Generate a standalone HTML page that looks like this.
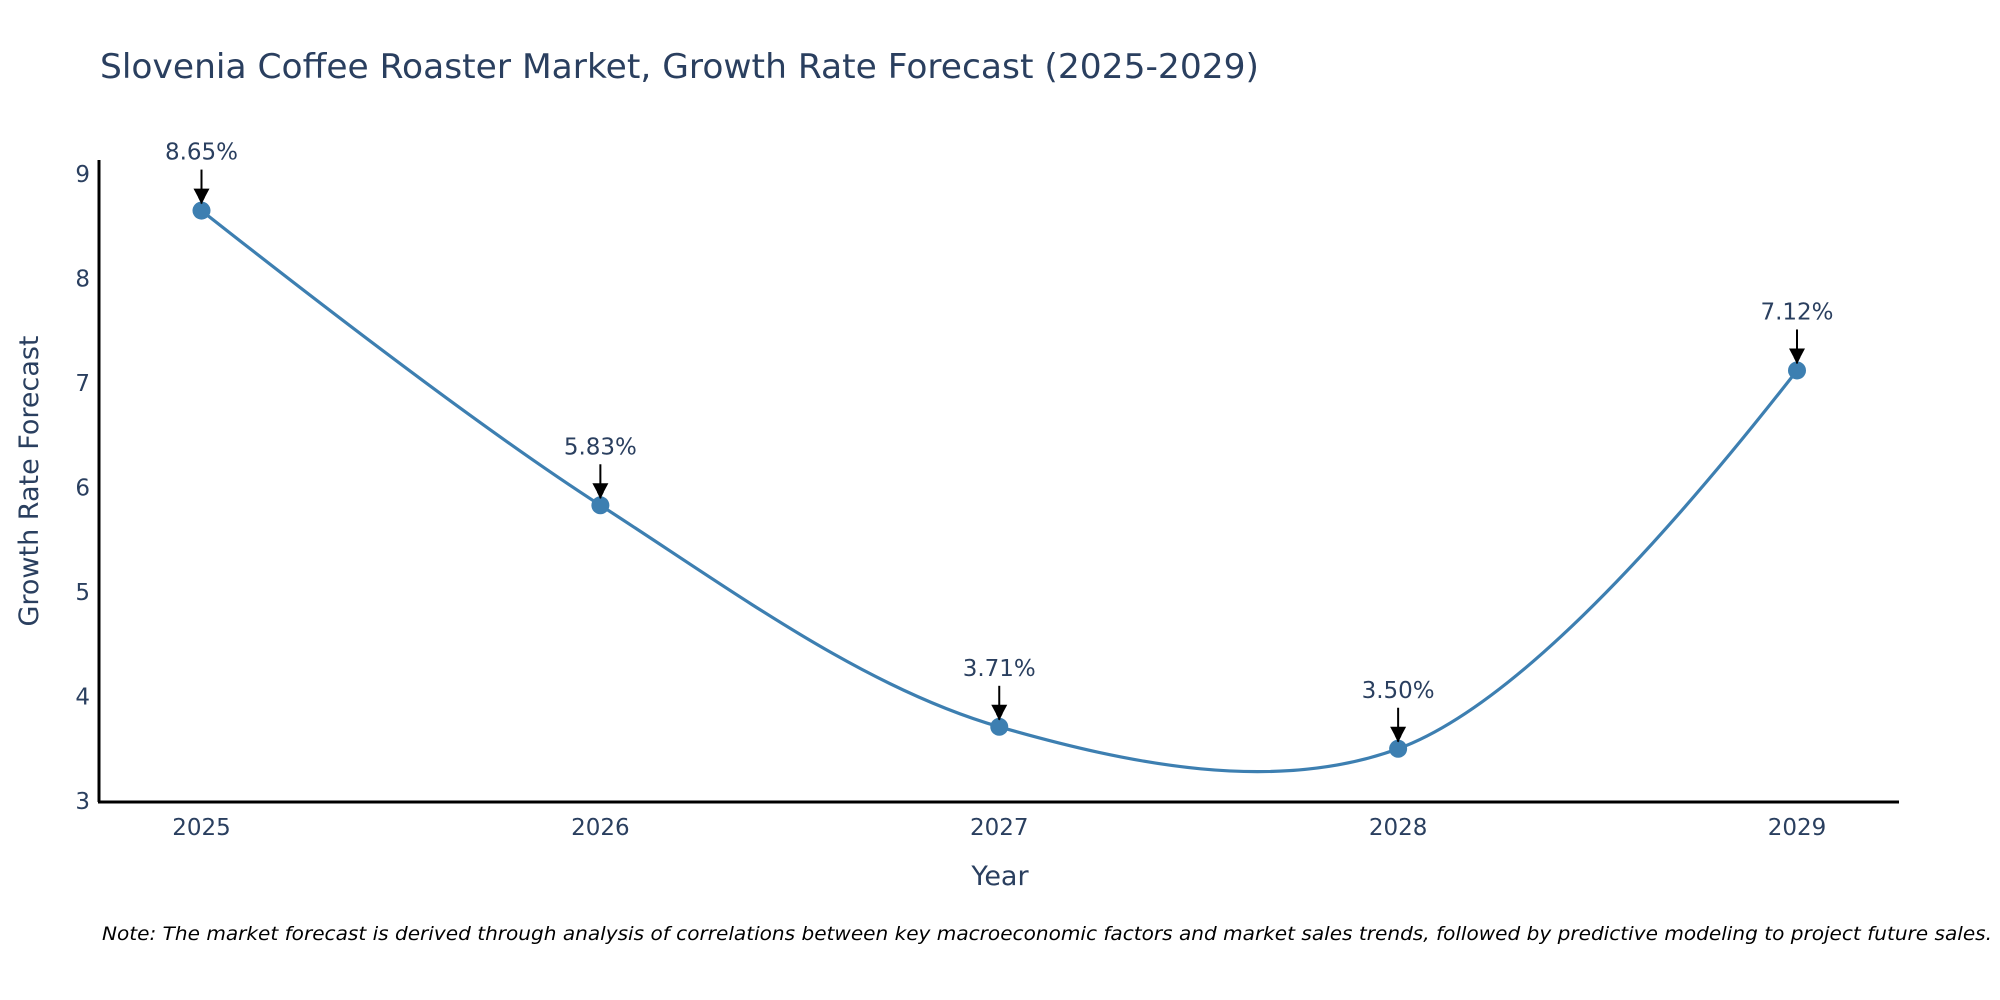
<!DOCTYPE html>
<html><head><meta charset="utf-8"><style>
body{margin:0;background:#fff;}
svg{display:block;font-family:"DejaVu Sans","Liberation Sans",sans-serif;}
</style></head><body>
<svg id="chart" width="2000" height="1000" viewBox="0 0 2000 1000">
<text x="100" y="78" font-size="34" fill="#2a3f5f" textLength="1159" lengthAdjust="spacingAndGlyphs">Slovenia Coffee Roaster Market, Growth Rate Forecast (2025-2029)</text>
<g id="yticks"></g>
<g id="xticks"></g>
<line x1="99" y1="160" x2="99" y2="802" stroke="#000" stroke-width="3"/>
<line x1="98" y1="802" x2="1899" y2="802" stroke="#000" stroke-width="3"/>
<text x="1000" y="885" font-size="27" fill="#2a3f5f" text-anchor="middle">Year</text>
<text transform="translate(38,481) rotate(-90)" font-size="27" fill="#2a3f5f" text-anchor="middle">Growth Rate Forecast</text>
<g id="series"></g>
<g id="annots"></g>
<defs><marker id="ah" viewBox="0 0 10 10" refX="9" refY="5" markerWidth="7" markerHeight="7" markerUnits="userSpaceOnUse" orient="auto"><path d="M0,0L10,5L0,10z" fill="#000"/></marker></defs>
<text x="102" y="940" font-size="19" font-style="italic" fill="#000" textLength="1890" lengthAdjust="spacingAndGlyphs">Note: The market forecast is derived through analysis of correlations between key macroeconomic factors and market sales trends, followed by predictive modeling to project future sales.</text>
</svg>
<script>
const years = ["2025","2026","2027","2028","2029"];
const values = [8.65, 5.83, 3.71, 3.50, 7.12];
const labels = ["8.65%","5.83%","3.71%","3.50%","7.12%"];
const yTicks = [3,4,5,6,7,8,9];

const NS="http://www.w3.org/2000/svg";
const X0=201.5, X1=1797, Y3=801, Y9=174;
const xs=i=>X0+(X1-X0)*i/(years.length-1);
const ys=v=>Y3+(v-3)*(Y9-Y3)/6;
function mk(tag,attrs,parent){const e=document.createElementNS(NS,tag);for(const k in attrs)e.setAttribute(k,attrs[k]);parent.appendChild(e);return e;}

const yg=document.getElementById('yticks');
yTicks.forEach(t=>{
  const e=mk('text',{x:90,y:ys(t)+8,'font-size':23,fill:'#2a3f5f','text-anchor':'end'},yg);
  
  
  e.textContent=t;
});
const xg=document.getElementById('xticks');
years.forEach((y,i)=>{
  const e=mk('text',{x:xs(i),y:835,'font-size':23,fill:'#2a3f5f','text-anchor':'middle'},xg);
  
  
  e.textContent=y;
});

const pts=values.map((v,i)=>[xs(i),ys(v)]);
function tangent(p,c,n){
  const d1x=p[0]-c[0],d1y=p[1]-c[1],d2x=n[0]-c[0],d2y=n[1]-c[1];
  const d1a=Math.pow(d1x*d1x+d1y*d1y,0.25),d2a=Math.pow(d2x*d2x+d2y*d2y,0.25);
  const nx=(d2a*d2a*d1x-d1a*d1a*d2x),ny=(d2a*d2a*d1y-d1a*d1a*d2y);
  const den1=3*d2a*(d1a+d2a),den2=3*d1a*(d1a+d2a);
  return [[c[0]+nx/den1,c[1]+ny/den1],[c[0]-nx/den2,c[1]-ny/den2]];
}
const tg=[];
for(let i=1;i<pts.length-1;i++)tg.push(tangent(pts[i-1],pts[i],pts[i+1]));
const P=p=>p[0].toFixed(2)+','+p[1].toFixed(2);
let d='M'+P(pts[0])+'Q'+P(tg[0][0])+' '+P(pts[1]);
for(let i=2;i<pts.length-1;i++)d+='C'+P(tg[i-2][1])+' '+P(tg[i-1][0])+' '+P(pts[i]);
d+='Q'+P(tg[tg.length-1][1])+' '+P(pts[pts.length-1]);
const sg=document.getElementById('series');
const line=mk('path',{d:d,fill:'none',stroke:'#3d7fb1','stroke-width':3.2},sg);


const ag=document.getElementById('annots');
pts.forEach((p,i)=>{
  const c=mk('circle',{cx:p[0],cy:p[1],r:9,fill:'#3d7fb1'},sg);
  
  
  const a=mk('line',{x1:p[0],y1:p[1]-41,x2:p[0],y2:p[1]-7,stroke:'#000','stroke-width':2,'marker-end':'url(#ah)'},ag);
  
  
  const ah=mk('path',{d:'M'+(p[0]-8)+','+(p[1]-22)+'L'+(p[0]+8)+','+(p[1]-22)+'L'+p[0]+','+(p[1]-7)+'Z',fill:'#000'},ag);
  
  
  const t=mk('text',{x:p[0],y:p[1]-51,'font-size':23,fill:'#2a3f5f','text-anchor':'middle'},ag);
  
  
  t.textContent=labels[i];
});
</script>
</body></html>
